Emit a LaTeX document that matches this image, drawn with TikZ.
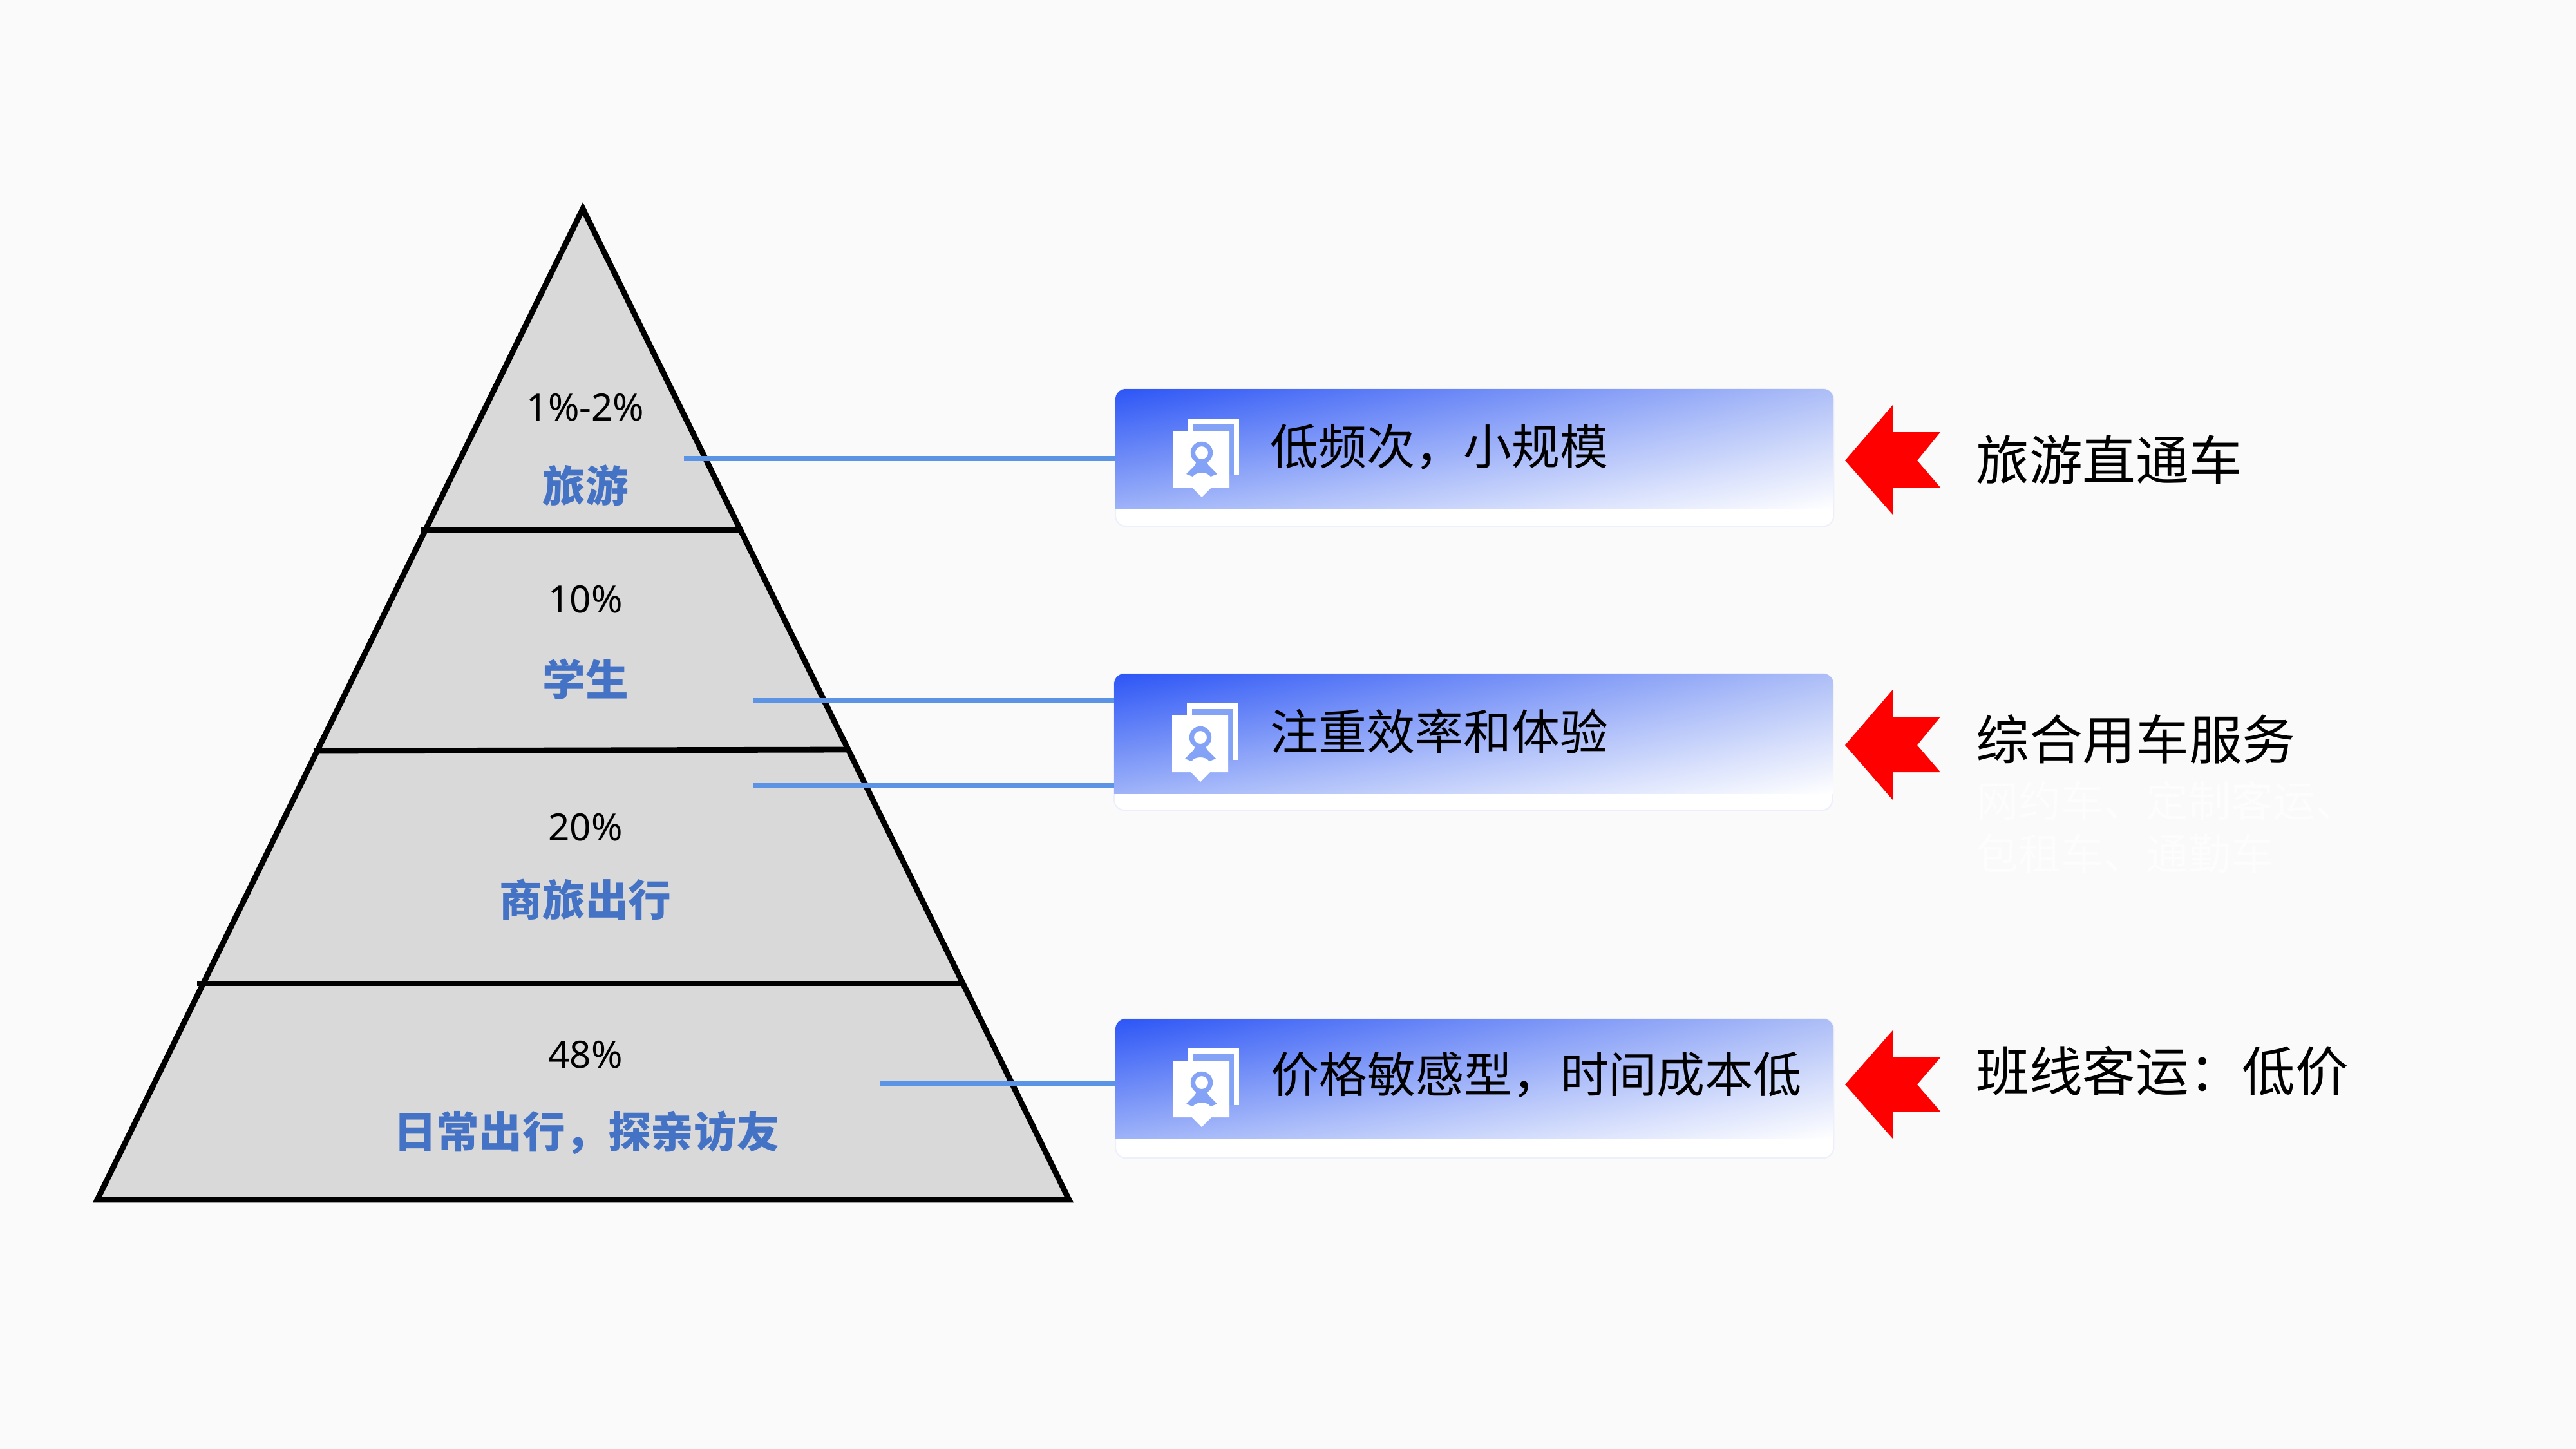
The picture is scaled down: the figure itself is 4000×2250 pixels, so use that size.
\documentclass[tikz,border=0pt]{standalone}
\usepackage{fontspec}
\setmainfont{Noto Sans CJK SC}
\newfontfamily\latinnum{Noto Sans}
\usetikzlibrary{shadings,calc}
\definecolor{pagebg}{HTML}{FAFAFA}
\definecolor{layerfill}{HTML}{D9D9D9}
\definecolor{tagblue}{HTML}{4472C4}
\definecolor{linkblue}{HTML}{5B93E5}
\definecolor{gradA}{HTML}{2C55F6}
\definecolor{gradB}{HTML}{ADBEF7}
\definecolor{gradC}{HTML}{9DB2F8}
\definecolor{iconblue}{HTML}{84A2F6}
\definecolor{cardedge}{HTML}{EDF0FA}
\definecolor{ghost}{HTML}{FDFDFD}
\newcommand{\sizeA}{\fontsize{41.5pt}{48pt}\selectfont\latinnum}
\newcommand{\sizeB}{\fontsize{47.4pt}{54pt}\selectfont\bfseries}
\newcommand{\sizeC}{\fontsize{53.3pt}{60pt}\selectfont}
\newcommand{\sizeD}{\fontsize{58.8pt}{66pt}\selectfont}
\newcommand{\sizeE}{\fontsize{46.9pt}{54pt}\selectfont}
\tikzset{
  edge/.style={draw=black,line width=0.22cm,line cap=butt},
  link/.style={draw=linkblue,line width=0.21cm},
  pct/.style={inner sep=0pt,font=\sizeA,text=black},
  tag/.style={inner sep=0pt,font=\sizeB,text=tagblue},
  cardtext/.style={inner sep=0pt,anchor=west,font=\sizeC,text=black},
  sidetext/.style={inner sep=0pt,anchor=west,font=\sizeD,text=black},
  ghosttext/.style={inner sep=0pt,anchor=west,font=\sizeE,text=ghost},
  cardbox/.style={draw=cardedge,line width=0.05cm,fill=white,rounded corners=0.4cm,anchor=north west,
    minimum width=27.875cm,outer sep=0pt,inner sep=0pt},
  cardshade/.style={shading=bilinear interpolation,upper left=gradA,upper right=gradB,lower left=gradC,lower right=white},
  redarrow/.style={fill=red,draw=none},
}
% icon: drawn at its place on the first card, shifted for the others
\newcommand{\cardicon}[1]{%
\begin{scope}[shift={(#1)}]
  \fill[white] (1845,650) rectangle (1924,738);
  \fill[iconblue] (1853,659) rectangle (1916,738);
  \fill[white] (1822,669) -- (1909,669) -- (1909,757) -- (1881,757) -- (1866,772) -- (1851,757) -- (1822,757) -- cycle;
  \fill[iconblue,even odd rule] (1866,703) circle [radius=0.43cm] (1866,703) circle [radius=0.25cm];
  \fill[iconblue] (1842,736) -- (1856,722) -- (1858,715) -- (1874,715) -- (1876,722) -- (1890,736) -- (1880,740) .. controls (1874,732) and (1858,732) .. (1852,740) -- cycle;
\end{scope}}
\begin{document}
\begin{tikzpicture}[x=0.025cm,y=-0.025cm]
\useasboundingbox (0,0) rectangle (4000,2250);
\fill[pagebg] (0,0) rectangle (4000,2250);

% pyramid
\coordinate (apex) at (905,324);
\coordinate (baseL) at (151,1863);
\coordinate (baseR) at (1660,1863);
\draw[edge,fill=layerfill,line join=miter] (apex) -- (baseR) -- (baseL) -- cycle;
\coordinate (a1) at (654,823);  \coordinate (b1) at (1153,823);
\coordinate (a2) at (487,1166); \coordinate (b2) at (1314,1164);
\coordinate (a3) at (306,1527); \coordinate (b3) at (1494,1527);
\draw[edge] (a1) -- (b1);
\draw[edge] (a2) -- (b2);
\draw[edge] (a3) -- (b3);

% pyramid labels
\node[pct] (p1) at (909,633) {1\%-2\%};
\node[tag] (t1) at (909,754) {旅游};
\node[pct] (p2) at (909,931) {10\%};
\node[tag] (t2) at (909,1055) {学生};
\node[pct] (p3) at (909,1285) {20\%};
\node[tag] (t3) at (909,1397) {商旅出行};
\node[pct] (p4) at (909,1638) {48\%};
\node[tag] (t4) at (911,1759) {日常出行，探亲访友};

% cards
\node[cardbox,minimum height=5.325cm] (card1) at (1732,604) {};
\node[cardbox,minimum height=5.3cm] (card2) at (1730,1046) {};
\node[cardbox,minimum height=5.4cm] (card3) at (1732,1582) {};
\begin{scope}
  \clip[rounded corners=0.4cm] (1732,604) rectangle (2847,817);
  \shade[cardshade] (1732,604) rectangle (2847,790);
\end{scope}
\begin{scope}
  \clip[rounded corners=0.4cm] (1730,1046) rectangle (2847,1258);
  \shade[cardshade] (1730,1046) rectangle (2847,1232);
\end{scope}
\begin{scope}
  \clip[rounded corners=0.4cm] (1732,1582) rectangle (2847,1798);
  \shade[cardshade] (1732,1582) rectangle (2847,1768);
\end{scope}

% connectors
\coordinate (l1) at (1062,712);
\coordinate (l2) at (1170,1088);
\coordinate (l3) at (1170,1220);
\coordinate (l4) at (1367,1682);
\draw[link] (l1) -- (l1 -| card1.west);
\draw[link] (l2) -- (l2 -| card2.west);
\draw[link] (l3) -- (l3 -| card2.west);
\draw[link] (l4) -- (l4 -| card3.west);

% icons
\cardicon{0,0}
\cardicon{-2,442}
\cardicon{0,978}

% card texts
\node[cardtext] (c1) at (1972,694) {低频次，小规模};
\node[cardtext] (c2) at (1972,1136) {注重效率和体验};
\node[cardtext] (c3) at (1973,1669) {价格敏感型，时间成本低};

% red arrows
\fill[redarrow] (2865,715) -- (2939,629) -- (2939,671) -- (3013,671) -- (2977,715) -- (3013,757) -- (2939,757) -- (2939,799) -- cycle;
\fill[redarrow] (2865,1157) -- (2939,1071) -- (2939,1113) -- (3013,1113) -- (2977,1157) -- (3013,1199) -- (2939,1199) -- (2939,1242) -- cycle;
\fill[redarrow] (2865,1684) -- (2939,1600) -- (2939,1642) -- (3013,1642) -- (2977,1684) -- (3013,1726) -- (2939,1726) -- (2939,1768) -- cycle;

% right-hand texts
\node[sidetext] (s1) at (3068,714) {旅游直通车};
\node[sidetext] (s2) at (3068,1148) {综合用车服务};
\node[ghosttext] (g1) at (3068,1243) {网约车、定制客运、};
\node[ghosttext] (g2) at (3068,1325) {包租车、通勤车};
\node[sidetext] (s3) at (3068,1663) {班线客运：低价};
\end{tikzpicture}
\end{document}
